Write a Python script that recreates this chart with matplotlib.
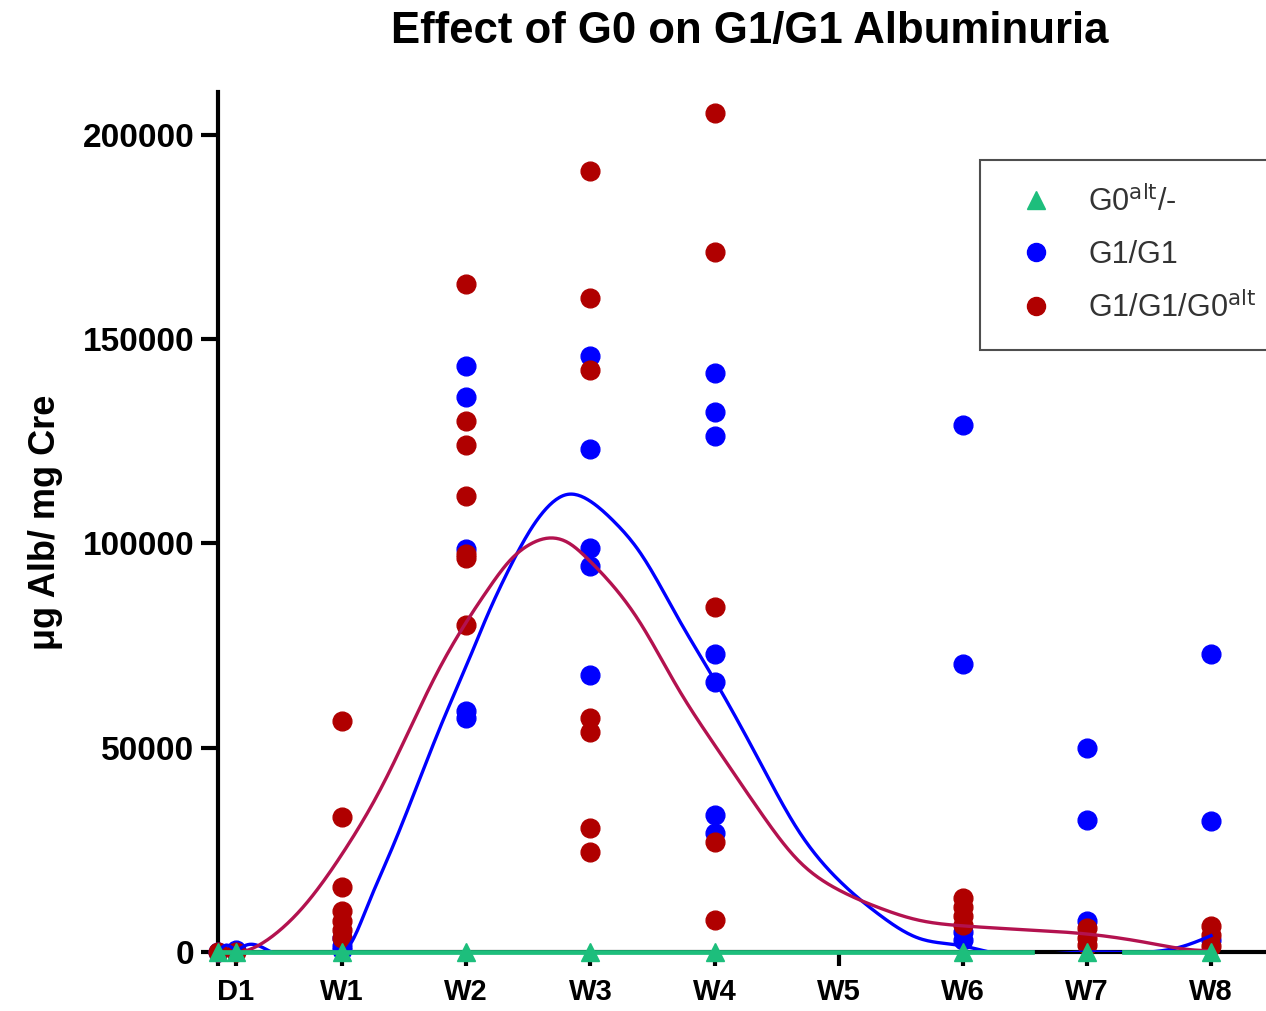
import numpy as np
import matplotlib
matplotlib.use('Agg')
import matplotlib.pyplot as plt
from matplotlib.lines import Line2D

plt.rcParams['font.family'] = ['Liberation Sans', 'DejaVu Sans']

# x axis in days; tick labels
tick_days = [0, 1, 7, 14, 21, 28, 35, 42, 49, 56]
tick_labels = ['', 'D1', 'W1', 'W2', 'W3', 'W4', 'W5', 'W6', 'W7', 'W8']

# G1/G1 (blue) measurements, per day
blue_days = [0, 1, 7, 7, 7,
             14, 14, 14, 14, 14,
             21, 21, 21, 21, 21,
             28, 28, 28, 28, 28, 28, 28,
             42, 42, 42, 42,
             49, 49, 49,
             56, 56, 56]
blue_vals = [0, 500, 3500, 1500, 500,
             143500, 135800, 98700, 59000, 57200,
             145900, 123100, 98900, 94500, 67800,
             141700, 132200, 126300, 73000, 66100, 33500, 29100,
             129000, 70500, 5000, 3000,
             49900, 32300, 7600,
             72900, 32100, 2900]

# G1/G1/G0alt (red) measurements
red_days = [0, 1, 7, 7, 7, 7, 7, 7, 7,
            14, 14, 14, 14, 14, 14, 14,
            21, 21, 21, 21, 21, 21, 21,
            28, 28, 28, 28, 28,
            42, 42, 42, 42,
            49, 49, 49,
            56, 56, 56]
red_vals = [0, 0, 56500, 33000, 16000, 10000, 7500, 5500, 3500,
            163500, 130000, 124000, 111500, 97500, 96500, 80000,
            191200, 160100, 142500, 57300, 53900, 30400, 24500,
            205400, 171400, 84500, 26900, 7800,
            13200, 11000, 8800, 6600,
            5900, 3400, 1700,
            6400, 4200, 1500]

# G0alt/- (green) measurements
green_days = [0, 1, 7, 14, 21, 28, 42, 49, 56]
green_vals = [0, 0, 0, 0, 0, 0, 0, 0, 0]

# fitted curves
red_fit_days = [0, 1, 2, 3.3, 4.8, 7, 9.3, 12.35, 15.2, 16.5,
                17.6, 18.6, 19.7, 20.9, 22.3, 23.7, 26, 28, 30.5, 32.7, 35,
                37.3, 39.5, 42, 45.7, 49, 52.5, 55, 56]
red_fit_vals = [0, -200, 1000, 4650, 11000, 24000, 41000, 68300, 88600, 96000,
                99800, 101300, 100300, 96000, 89500,
                81300, 64100, 50700, 34800, 22500, 15200, 10800, 7800, 6400,
                5400, 4400, 2200, 500, 300]

blue_fit_days = [0, 0.5, 1, 1.5, 3, 7, 7.3, 8.4, 9.7, 11.2, 12.7, 14, 15.2, 16.5,
                 17.5, 18.5, 19.7, 20.9, 22.3, 23.7, 26, 28, 30.5, 32.7, 35,
                 37.3, 39.5, 42, 43.5, 49, 52.5, 54.5, 56]
blue_fit_vals = [0, 1700, 600, 1500, 0, 0, 1000, 11000, 24200, 40400, 56800,
                 70000, 82500, 94500, 102500, 108500, 112000, 110600, 105500,
                 98400, 81300, 66600, 47000, 29900, 17600, 9100, 3400, 1500, 0,
                 0, 0, 1500, 4000]

green_fit_days = [0, 45.9, np.nan, 51.1, 56]
green_fit_vals = [0, 0, np.nan, 0, 0]

c_blue = '#0000FF'
c_red = '#B00000'
c_redline = '#B3124F'
c_green = '#1DBE7C'


def spline(xs, ys, num=600):
    # natural cubic spline, just to draw the read curve points smoothly
    x = np.asarray(xs, float)
    y = np.asarray(ys, float)
    n = len(x)
    h = np.diff(x)
    A = np.zeros((n, n))
    b = np.zeros(n)
    A[0, 0] = A[-1, -1] = 1
    for i in range(1, n - 1):
        A[i, i - 1] = h[i - 1]
        A[i, i] = 2 * (h[i - 1] + h[i])
        A[i, i + 1] = h[i]
        b[i] = 3 * ((y[i + 1] - y[i]) / h[i] - (y[i] - y[i - 1]) / h[i - 1])
    c = np.linalg.solve(A, b)
    bb = (y[1:] - y[:-1]) / h - h * (2 * c[:-1] + c[1:]) / 3
    d = (c[1:] - c[:-1]) / (3 * h)
    xx = np.linspace(x[0], x[-1], num)
    k = np.clip(np.searchsorted(x, xx) - 1, 0, n - 2)
    t = xx - x[k]
    return xx, y[k] + bb[k] * t + c[k] * t ** 2 + d[k] * t ** 3


fig = plt.figure(figsize=(12.66, 10.11), dpi=100)
ax = fig.add_axes([218 / 1266, 59 / 1011, 1064 / 1266, 860 / 1011])

ax.plot(blue_days, blue_vals, 'o', color=c_blue, markersize=13.5, zorder=3, clip_on=False)
ax.plot(red_days, red_vals, 'o', color=c_red, markersize=13.5, zorder=4, clip_on=False)
bx, by = spline(blue_fit_days, blue_fit_vals)
rx, ry = spline(red_fit_days, red_fit_vals)
ax.plot(bx, by, '-', color=c_blue, lw=2.4, zorder=5)
ax.plot(rx, ry, '-', color=c_redline, lw=2.4, zorder=6)
ax.plot(green_fit_days, green_fit_vals, '-', color=c_green, lw=3.4, zorder=7, clip_on=False)
ax.plot(green_days, green_vals, '^', color=c_green, markersize=13, zorder=8, clip_on=False)

ax.set_xlim(0, 60)
ax.set_ylim(0, 210500)
ax.spines['top'].set_visible(False)
ax.spines['right'].set_visible(False)
ax.spines['left'].set_linewidth(3)
ax.spines['bottom'].set_linewidth(3)

ax.set_xticks(tick_days)
ax.set_xticklabels(tick_labels)
ax.set_yticks([0, 50000, 100000, 150000, 200000])
ax.tick_params(axis='both', width=3)
ax.tick_params(axis='x', length=10, pad=9, labelsize=21)
ax.tick_params(axis='y', length=12, pad=5, labelsize=24)
for lab in ax.get_xticklabels() + ax.get_yticklabels():
    lab.set_fontweight('bold')

ax.set_ylabel('μg Alb/ mg Cre', fontsize=26, fontweight='bold', labelpad=14)
fig.suptitle('Effect of G0 on G1/G1 Albuminuria', x=750 / 1266, y=1 - 11 / 1011,
             fontsize=31.5, fontweight='bold', va='top')

handles = [
    Line2D([], [], marker='^', color=c_green, ls='none', markersize=13),
    Line2D([], [], marker='o', color=c_blue, ls='none', markersize=13),
    Line2D([], [], marker='o', color=c_red, ls='none', markersize=13),
]
labels = ['G0$^{\\mathrm{alt}}$/-', 'G1/G1', 'G1/G1/G0$^{\\mathrm{alt}}$']
leg = ax.legend(handles, labels, loc='upper left', bbox_to_anchor=(0.716, 0.921),
                fontsize=22, frameon=True, fancybox=False, borderpad=0.85,
                labelspacing=0.72, handletextpad=0.7, handlelength=2.0,
                borderaxespad=0)
leg.get_frame().set_edgecolor('#222222')
leg.get_frame().set_linewidth(1.5)
for t in leg.get_texts():
    t.set_color('#333333')

plt.savefig('out.png', dpi=100)
